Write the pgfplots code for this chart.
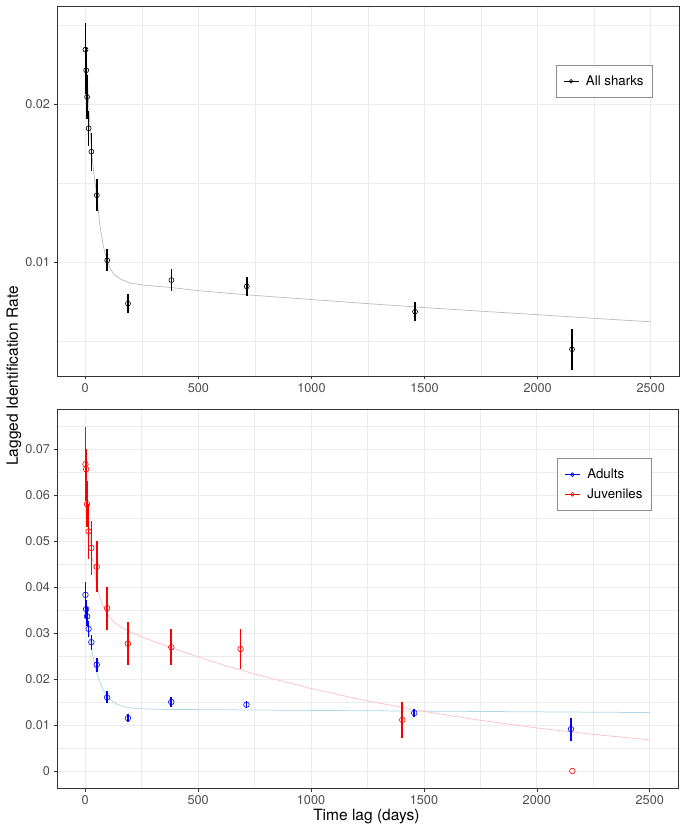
\documentclass[border=0pt]{standalone}
\usepackage{fontspec}
\setmainfont{TeX Gyre Heros}
\usepackage{pgfplots}
\pgfplotsset{compat=1.18}
\usepackage{pgfplotstable}
\definecolor{gridc}{HTML}{EBEBEB}
\definecolor{framec}{HTML}{333333}
\definecolor{ticktext}{HTML}{4D4D4D}
\definecolor{curvegray}{HTML}{BEBEBE}
\definecolor{lblue}{HTML}{ADD8E6}
\definecolor{lpink}{HTML}{FFC0CB}
\definecolor{legframe}{HTML}{8C8C8C}
\definecolor{ggblue}{HTML}{0000FF}
\definecolor{ggred}{HTML}{FF0000}

\pgfplotstableread{
t r e
1 0.02346 0.0017
4 0.02215 0.0015
8 0.02046 0.0014
15 0.01848 0.0011
27 0.01700 0.0012
51 0.01424 0.0010
97 0.01012 0.0007
189 0.00738 0.0006
381 0.00887 0.0007
714 0.00847 0.0006
1458 0.00687 0.0006
2152 0.00449 0.0013
}\allsharks

\pgfplotstableread{
t r
0 0.0241
1 0.0238
3 0.0233
7 0.0222
14 0.0203
20 0.0187
27 0.0172
38 0.0156
50 0.0143
65 0.0123
80 0.0110
96 0.0101
112 0.00956
129 0.0092
160 0.0089
203 0.00867
260 0.00855
380 0.0084
500 0.0082
750 0.0079
1000 0.00764
1250 0.00738
1500 0.00713
1750 0.0069
2000 0.00668
2250 0.00645
2500 0.00623
}\curveall

\pgfplotstableread{
t r e
1 0.0383 0.0027
4 0.0352 0.0020
8 0.0336 0.0020
15 0.0309 0.0018
27 0.0280 0.0016
51 0.0231 0.0015
97 0.0160 0.0013
189 0.0115 0.0009
381 0.0150 0.0011
714 0.0144 0.0008
1457 0.0126 0.0009
2151 0.0091 0.0025
}\adults

\pgfplotstableread{
t r e
1 0.0667 0.0080
4 0.0656 0.0045
8 0.0580 0.0050
15 0.0521 0.0060
27 0.0485 0.0058
51 0.0444 0.0055
97 0.0354 0.0047
189 0.0277 0.0046
381 0.0269 0.0039
688 0.0265 0.0044
1404 0.0111 0.0040
2157 0.0000 0.0000
}\juveniles

\pgfplotstableread{
t r
0 0.0380
5 0.03542
10 0.03312
15 0.03105
20 0.02921
30 0.02607
40 0.02356
50 0.02155
60 0.01994
75 0.01811
90 0.01679
105 0.01585
120 0.01517
140 0.01455
160 0.01415
190 0.01380
230 0.01357
280 0.01346
350 0.01339
500 0.01334
750 0.01326
1000 0.01317
1500 0.01302
2000 0.01286
2500 0.01270
}\curveadults

\pgfplotstableread{
t r
0 0.0653
5 0.06106
10 0.05738
15 0.05416
20 0.05137
30 0.04680
40 0.04331
50 0.04063
60 0.03857
75 0.03631
90 0.03472
105 0.03358
120 0.03274
140 0.03189
160 0.03123
190 0.03046
230 0.02958
280 0.02860
350 0.02733
450 0.02561
600 0.02323
750 0.02108
1000 0.01792
1250 0.01523
1500 0.01295
1750 0.01101
2000 0.00936
2250 0.00796
2500 0.00677
}\curvejuv

\pgfplotsset{ggstyle/.style={
  scale only axis,
  xmin=-125, xmax=2625,
  xtick={0,500,1000,1500,2000,2500},
  xticklabels={0,500,1000,1500,2000,2500},
  minor xtick={250,750,1250,1750,2250},
  scaled x ticks=false, scaled y ticks=false,
  grid=both,
  major grid style={gridc, line width=0.9pt},
  minor grid style={gridc, line width=0.45pt},
  minor tick length=0pt,
  major tick length=3.5pt,
  tick align=outside,
  tick pos=left,
  tick style={framec, line width=0.6pt},
  axis line style={framec, line width=0.7pt},
  ticklabel style={font=\fontsize{12.7}{14}\selectfont, text=ticktext},
  legend cell align=left,
  legend style={draw=legframe, line width=0.5pt, fill=white,
    font=\fontsize{13.3}{15}\selectfont, anchor=north east,
    inner xsep=7pt, inner ysep=8.5pt, row sep=4.5pt,
    /tikz/every odd column/.append style={column sep=5pt}},
  legend image code/.code={
    \draw[##1, line width=0.9pt] (0pt,0pt) -- (15pt,0pt);
    \draw[##1, line width=0.6pt] (7.5pt,0pt) circle (1.9pt);
  },
},
ebar/.style={forget plot, only marks, mark=o, draw=#1, color=#1,
  mark options={line width=0.6pt, draw=#1},
  error bars/y dir=both, error bars/y explicit, error bars/error mark=none,
  error bars/error bar style={line width=1.6pt, draw=#1, color=#1}},
}

\begin{document}
\begin{tikzpicture}
\path[use as bounding box] (0pt,0pt) rectangle (685pt,831pt);

\begin{axis}[ggstyle,
  at={(57pt,455pt)}, anchor=south west,
  width=622pt, height=370pt,
  ymin=0.0028, ymax=0.02622,
  ytick={0.01,0.02}, yticklabels={0.01,0.02},
  minor ytick={0.005,0.015,0.025},
  legend style={at={(0.958,0.8405)}},
]
\addplot[curvegray, line width=0.75pt, forget plot] table[x=t,y=r] {\curveall};
\addplot[ebar=black, mark size=2.5pt] table[x=t,y=r,y error=e] {\allsharks};
\addlegendimage{black}
\addlegendentry{All sharks}
\end{axis}

\begin{axis}[ggstyle,
  at={(57pt,43pt)}, anchor=south west,
  width=621pt, height=379pt,
  ymin=-0.0037, ymax=0.0787,
  ytick={0,0.01,0.02,0.03,0.04,0.05,0.06,0.07},
  yticklabels={0,0.01,0.02,0.03,0.04,0.05,0.06,0.07},
  minor ytick={0.005,0.015,0.025,0.035,0.045,0.055,0.065,0.075},
  legend style={at={(0.9577,0.870)}},
]
\addplot[lblue, line width=0.75pt, forget plot] table[x=t,y=r] {\curveadults};
\addplot[lpink, line width=0.75pt, forget plot] table[x=t,y=r] {\curvejuv};
\addplot[ebar=ggblue, mark size=2.8pt] table[x=t,y=r,y error=e] {\adults};
\addplot[ebar=ggred, mark size=2.8pt] table[x=t,y=r,y error=e] {\juveniles};
\addlegendimage{ggblue}
\addlegendentry{Adults}
\addlegendimage{ggred}
\addlegendentry{Juveniles}
\end{axis}

\node[rotate=90, font=\fontsize{15.5}{18}\selectfont] at (14pt,455pt) {Lagged Identification Rate};
\node[anchor=base, font=\fontsize{15.5}{18}\selectfont] at (366.4pt,10.3pt) {Time lag (days)};
\end{tikzpicture}
\end{document}
